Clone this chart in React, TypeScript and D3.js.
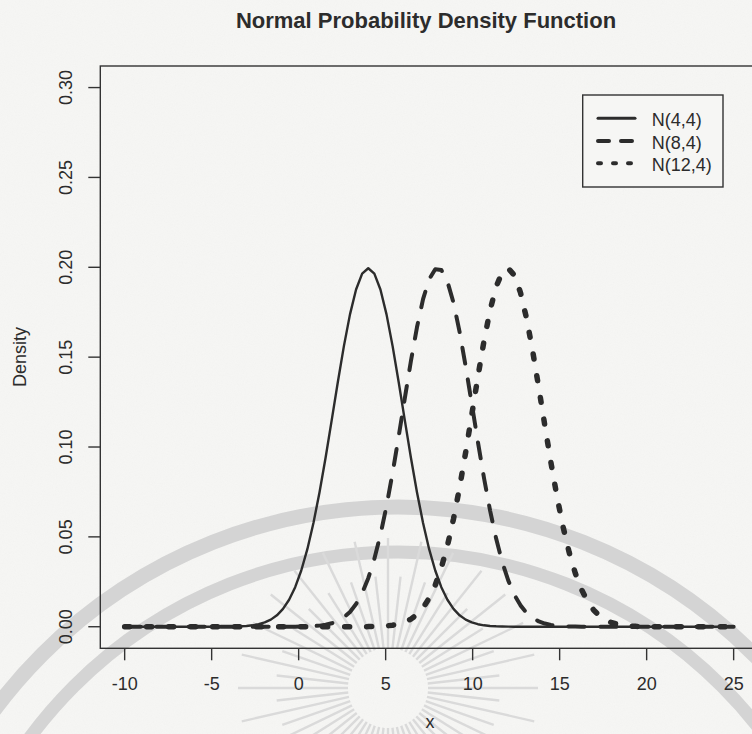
import React from "react";
import * as d3 from "d3";

// Distribution parameters: N(mean, variance)
const seriesLabels = ["N(4,4)", "N(8,4)", "N(12,4)"];
const seriesMeans = [4, 8, 12];
const seriesVariances = [4, 4, 4];

// x range evaluated by the curve and number of evaluation points
const xFrom = -10;
const xTo = 25;
const nPoints = 101;

const xTicks = [-10, -5, 0, 5, 10, 15, 20, 25];
const yTicks = [0, 0.05, 0.1, 0.15, 0.2, 0.25, 0.3];
const yTickLabels = ["0.00", "0.05", "0.10", "0.15", "0.20", "0.25", "0.30"];

const W = 752;
const H = 734;
const FONT = "'Liberation Sans', Arial, Helvetica, sans-serif";
const BG = "#f6f6f4";
const INK = "#2c2c2c";

// line styles per series (R-like lty 1, 2, 3)
const styles = [
  { width: 2.4, dash: "", keyWidth: 3, keyDash: "" },
  { width: 4, dash: "16 16", keyWidth: 4, keyDash: "11 12" },
  { width: 5.5, dash: "5 17", keyWidth: 4, keyDash: "3 12" },
];

function dnorm(x: number, mean: number, variance: number): number {
  const sd = Math.sqrt(variance);
  const z = (x - mean) / sd;
  return Math.exp(-0.5 * z * z) / (sd * Math.sqrt(2 * Math.PI));
}

export default function App() {
  // R-style 4% padding around the data ranges
  const x = d3.scaleLinear().domain([-11.4, 26.4]).range([100.3, 758]);
  const y = d3.scaleLinear().domain([-0.012, 0.312]).range([648.3, 66]);

  const grid = d3.range(nPoints).map((i) => xFrom + ((xTo - xFrom) * i) / (nPoints - 1));
  const line = d3
    .line<[number, number]>()
    .x((d) => x(d[0]))
    .y((d) => y(d[1]));

  const curves = seriesMeans.map((m, i) =>
    grid.map((gx) => [gx, dnorm(gx, m, seriesVariances[i])] as [number, number])
  );

  const [x0, x1] = x.range();
  const [yb, yt] = y.range();

  // faint seal printed behind the figure
  const sealCx = 398;
  const sealCy = 1010;
  const rayC: [number, number] = [388, 688];
  const rays = d3.range(56).map((i) => {
    const a = (i / 56) * Math.PI * 2;
    const r0 = 40;
    const r1 = i % 2 === 0 ? 150 : 112;
    return {
      x1: rayC[0] + r0 * Math.cos(a),
      y1: rayC[1] + r0 * Math.sin(a),
      x2: rayC[0] + r1 * Math.cos(a),
      y2: rayC[1] + r1 * Math.sin(a),
    };
  });

  const legendX = 582.7;
  const legendY = 95;
  const legendW = 140.3;
  const legendH = 92;
  const legendRows = [118.3, 141, 163.3];

  return (
    <svg
      width={W}
      height={H}
      viewBox={`0 0 ${W} ${H}`}
      style={{ position: "absolute", left: 0, top: 0, background: BG }}
      fontFamily={FONT}
    >
      <defs>
        <filter id="grain" x="0" y="0" width="100%" height="100%">
          <feTurbulence type="fractalNoise" baseFrequency="0.9" numOctaves="2" seed="3" />
          <feColorMatrix type="saturate" values="0" />
        </filter>
      </defs>
      <rect width={W} height={H} fill={BG} />
      <rect width={W} height={H} filter="url(#grain)" opacity={0.04} />

      <g stroke="#d4d4d4" fill="none">
        <circle cx={sealCx} cy={sealCy} r={503} strokeWidth={15} />
        <circle cx={sealCx} cy={sealCy} r={458} strokeWidth={13} />
        {rays.map((r, i) => (
          <line key={i} x1={r.x1} y1={r.y1} x2={r.x2} y2={r.y2} strokeWidth={2.4} stroke="#dadada" />
        ))}
      </g>

      <text x={426} y={28.3} textAnchor="middle" fontSize={22} fontWeight="bold" fill={INK}>
        Normal Probability Density Function
      </text>

      {/* curves */}
      {curves.map((c, i) => (
        <path
          key={seriesLabels[i]}
          d={line(c) ?? ""}
          fill="none"
          stroke={INK}
          strokeWidth={styles[i].width}
          strokeDasharray={styles[i].dash || undefined}
          strokeLinecap="round"
          strokeLinejoin="round"
        />
      ))}

      {/* plot frame */}
      <rect x={x0} y={yt} width={x1 - x0} height={yb - yt} fill="none" stroke="#333" strokeWidth={1.4} />

      {/* x axis */}
      <g stroke="#333" strokeWidth={1.4}>
        {xTicks.map((t) => (
          <line key={t} x1={x(t)} x2={x(t)} y1={yb} y2={yb + 12} />
        ))}
      </g>
      <g fontSize={18} fill={INK} textAnchor="middle">
        {xTicks.map((t) => (
          <text key={t} x={x(t)} y={690}>
            {t}
          </text>
        ))}
      </g>
      <text x={430} y={728} fontSize={18} fill={INK} textAnchor="middle">
        x
      </text>

      {/* y axis */}
      <g stroke="#333" strokeWidth={1.4}>
        {yTicks.map((t) => (
          <line key={t} x1={x0} x2={x0 - 12} y1={y(t)} y2={y(t)} />
        ))}
      </g>
      <g fontSize={18} fill={INK} textAnchor="middle">
        {yTicks.map((t, i) => (
          <text key={t} transform={`translate(71.5,${y(t)}) rotate(-90)`}>
            {yTickLabels[i]}
          </text>
        ))}
      </g>
      <text transform={`translate(25.5,357) rotate(-90)`} fontSize={18} fill={INK} textAnchor="middle">
        Density
      </text>

      {/* legend */}
      <rect x={legendX} y={legendY} width={legendW} height={legendH} fill={BG} stroke="#333" strokeWidth={1.4} />
      {seriesLabels.map((lab, i) => (
        <g key={lab}>
          <line
            x1={598}
            x2={635}
            y1={legendRows[i]}
            y2={legendRows[i]}
            stroke={INK}
            strokeWidth={styles[i].keyWidth}
            strokeDasharray={styles[i].keyDash || undefined}
            strokeLinecap="round"
          />
          <text x={651.7} y={legendRows[i] + 8} fontSize={18} fill={INK}>
            {lab}
          </text>
        </g>
      ))}
    </svg>
  );
}
